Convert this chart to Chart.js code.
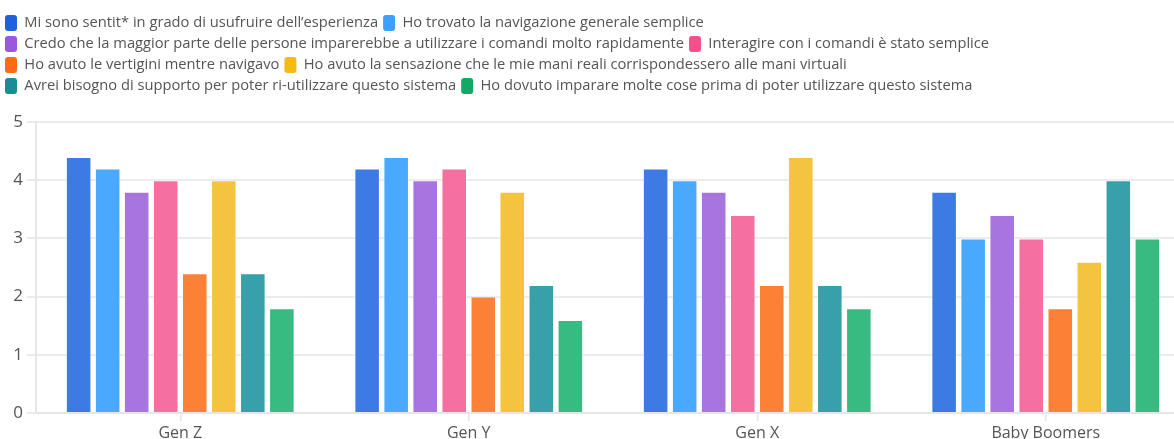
<!DOCTYPE html>
<html>
<head>
<meta charset="utf-8">
<script src="https://cdn.jsdelivr.net/npm/chart.js@4/dist/chart.umd.min.js"></script>
<style>
  html, body { margin: 0; padding: 0; background: #fff; overflow: hidden; }
  #wrap { position: relative; width: 1190px; height: 439px; }
</style>
</head>
<body>
<div id="wrap"><canvas id="surveyChart"></canvas></div>
<script>
// Categories and series
const generations = ['Gen Z', 'Gen Y', 'Gen X', 'Baby Boomers'];

const statements = [
    'Mi sono sentit* in grado di usufruire dell\u2019esperienza',
    'Ho trovato la navigazione generale semplice',
    'Credo che la maggior parte delle persone imparerebbe a utilizzare i comandi molto rapidamente',
    'Interagire con i comandi è stato semplice',
    'Ho avuto le vertigini mentre navigavo',
    'Ho avuto la sensazione che le mie mani reali corrispondessero alle mani virtuali',
    'Avrei bisogno di supporto per poter ri-utilizzare questo sistema',
    'Ho dovuto imparare molte cose prima di poter utilizzare questo sistema'
];

const sentitoInGrado   = [4.4, 4.2, 4.2, 3.8];
const navigazione      = [4.2, 4.4, 4.0, 3.0];
const imparaRapido     = [3.8, 4.0, 3.8, 3.4];
const comandiSemplici  = [4.0, 4.2, 3.4, 3.0];
const vertigini        = [2.4, 2.0, 2.2, 1.8];
const maniCorrispondono = [4.0, 3.8, 4.4, 2.6];
const supporto         = [2.4, 2.2, 2.2, 4.0];
const imparareMolto    = [1.8, 1.6, 1.8, 3.0];

const seriesValues = [sentitoInGrado, navigazione, imparaRapido, comandiSemplici,
                      vertigini, maniCorrispondono, supporto, imparareMolto];

const yTicks = [0, 1, 2, 3, 4, 5];

// legend swatch colours and the slightly lighter bar fills
const legendColors = ['#1f5fe0', '#3d9fff', '#9b57de', '#f4508e', '#ff6b14', '#f5ba15', '#1b8c96', '#14a866'];
const barColors    = ['#3e7ae4', '#4ba8ff', '#a874e0', '#f570a0', '#fc8035', '#f4c440', '#37a0a8', '#38bb80'];

// extra space between the legend and the plot
const legendGap = {
    id: 'legendGap',
    beforeInit(chart) {
        const origFit = chart.legend.fit;
        chart.legend.fit = function() {
            origFit.bind(chart.legend)();
            this.height += 18;
        };
    }
};

const ctx = document.getElementById('surveyChart').getContext('2d');

new Chart(ctx, {
    type: 'bar',
    data: {
        labels: generations,
        datasets: statements.map((label, i) => ({
            label: label,
            data: seriesValues[i],
            backgroundColor: barColors[i],
            borderColor: 'rgba(255,255,255,0.45)',
            borderWidth: 1
        }))
    },
    plugins: [legendGap],
    options: {
        responsive: true,
        maintainAspectRatio: false,
        animation: false,
        categoryPercentage: 0.805,
        barPercentage: 0.88,
        layout: { padding: { top: 10, left: 0, right: 0, bottom: 0 } },
        plugins: {
            tooltip: { enabled: false },
            legend: {
                position: 'top',
                align: 'start',
                labels: {
                    boxWidth: 12,
                    boxHeight: 16,
                    padding: 5,
                    useBorderRadius: true,
                    borderRadius: 3,
                    color: '#555',
                    font: { family: 'Open Sans', size: 14.7 },
                    generateLabels: function(chart) {
                        return chart.data.datasets.map((ds, i) => ({
                            text: ds.label,
                            fillStyle: legendColors[i],
                            strokeStyle: legendColors[i],
                            lineWidth: 0,
                            borderRadius: 3,
                            datasetIndex: i,
                            fontColor: '#555'
                        }));
                    }
                }
            }
        },
        scales: {
            x: {
                afterFit: function(scale) { scale.height = 26; },
                grid: {
                    offset: false,
                    drawOnChartArea: false,
                    tickLength: 8,
                    color: '#e6e6e6',
                    lineWidth: 1.5
                },
                border: { color: '#e6e6e6', width: 2 },
                ticks: {
                    color: '#555',
                    padding: 3,
                    font: { family: 'Open Sans', size: 16 }
                }
            },
            y: {
                min: 0,
                max: 5,
                afterBuildTicks: function(scale) {
                    scale.ticks = yTicks.map(v => ({ value: v }));
                },
                afterFit: function(scale) { scale.width = 36; },
                grid: {
                    color: '#ebebeb',
                    lineWidth: 2,
                    tickLength: 9
                },
                border: { color: '#e6e6e6', width: 2 },
                ticks: {
                    color: '#555',
                    padding: 4,
                    font: { family: 'Open Sans', size: 17 }
                }
            }
        }
    }
});
</script>
</body>
</html>
